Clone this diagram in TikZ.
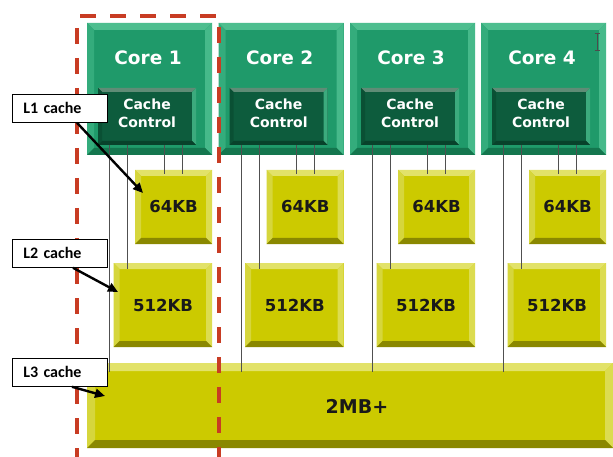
\documentclass[tikz,border=0pt]{standalone}
\usepackage{fontspec}
\setmainfont{DejaVu Sans}
\newfontfamily\carl{Carlito}
\usetikzlibrary{fit,arrows.meta}
\definecolor{gmain}{RGB}{31,154,106}
\definecolor{gtop}{RGB}{78,190,143}
\definecolor{gleft}{RGB}{52,172,124}
\definecolor{gright}{RGB}{70,185,138}
\definecolor{gbot}{RGB}{20,118,78}
\definecolor{cmain}{RGB}{13,92,61}
\definecolor{ctop}{RGB}{95,140,118}
\definecolor{cleft}{RGB}{10,80,52}
\definecolor{cright}{RGB}{60,170,125}
\definecolor{cbot}{RGB}{8,66,43}
\definecolor{ymain}{RGB}{204,202,0}
\definecolor{ytop}{RGB}{226,226,105}
\definecolor{yleft}{RGB}{214,214,60}
\definecolor{yright}{RGB}{220,220,80}
\definecolor{ybot}{RGB}{138,136,0}
\definecolor{redd}{RGB}{200,60,35}
\definecolor{wirec}{RGB}{80,80,80}
\newcommand\mybev[7]{%
  \node[fit={(#2,#3) (#4,#5)}, inner sep=0pt, outer sep=0pt, fill=#6main, draw=none] (#1) {};
  \fill[#6top] (#1.north west) -- (#1.north east) -- ([shift={(-#7pt,-#7pt)}]#1.north east) -- ([shift={(#7pt,-#7pt)}]#1.north west) -- cycle;
  \fill[#6left] (#1.north west) -- ([shift={(#7pt,-#7pt)}]#1.north west) -- ([shift={(#7pt,#7pt)}]#1.south west) -- (#1.south west) -- cycle;
  \fill[#6right] (#1.north east) -- ([shift={(-#7pt,-#7pt)}]#1.north east) -- ([shift={(-#7pt,#7pt)}]#1.south east) -- (#1.south east) -- cycle;
  \fill[#6bot] (#1.south west) -- ([shift={(#7pt,#7pt)}]#1.south west) -- ([shift={(-#7pt,#7pt)}]#1.south east) -- (#1.south east) -- cycle;
}
\tikzset{
  coretxt/.style={text=white, font=\bfseries\fontsize{18.5}{22}\selectfont, inner sep=0pt},
  cctxt/.style={text=white, font=\bfseries\fontsize{14}{18}\selectfont, align=center, inner sep=0pt},
  memtxt/.style={text=black!90, font=\bfseries\fontsize{16.5}{20}\selectfont, inner sep=0pt},
  wire/.style={draw=wirec, line width=0.9pt},
  lab/.style={draw=black, line width=0.8pt, fill=white, anchor=north west, minimum width=95pt, minimum height=28pt, text width=73pt, inner xsep=11pt, inner ysep=0pt, align=left, font=\carl\bfseries\fontsize{16}{18}\selectfont},
  pointer/.style={draw=black, line width=2.4pt, -{Triangle[length=10pt,width=9pt]}},
  reddash/.style={draw=redd, line width=4.5pt, dash pattern=on 16pt off 14pt},
}
\begin{document}
\begin{tikzpicture}[x=1pt,y=-1pt]
\useasboundingbox[fill=white] (0,0) rectangle (613,457);
% cores
\foreach \i/\x in {1/87,2/218.7,3/350,4/481}{
  \mybev{core\i}{\x}{23}{\x+125}{155}{g}{7}
  \node[coretxt] (ct\i) at (\x+61,58) {Core \i};
  \mybev{cc\i}{\x+11}{88}{\x+109}{145}{c}{4}
  \node[cctxt] (cct\i) at (\x+60,113) {Cache\\Control};
  \mybev{lone\i}{\x+48}{170}{\x+125}{244}{y}{6}
  \node[memtxt] (lonet\i) at (\x+86.5,207) {64KB};
  \mybev{ltwo\i}{\x+26.5}{263}{\x+125}{347}{y}{6}
  \node[memtxt] (ltwot\i) at (\x+76,305) {512KB};
}
\mybev{l3}{87}{363}{613}{448}{y}{8}
\node[memtxt, font=\bfseries\fontsize{19}{22}\selectfont] (l3t) at (357,406) {2MB+};
% wires
\foreach \i/\x in {1/87,2/218.7,3/350,4/481}{
  \draw[wire] (\x+22.3,0 |- cc\i.south) -- (\x+22.3,372);
  \draw[wire] (\x+40.5,0 |- cc\i.south) -- (\x+40.5,269);
  \draw[wire] (\x+77.3,0 |- cc\i.south) -- (\x+77.3,174);
  \draw[wire] (\x+95.3,0 |- cc\i.south) -- (\x+95.3,174);
}
% red dashed outline
\draw[reddash, dash phase=27pt] (77,16) -- (219,16) -- (219,470);
\draw[reddash, dash phase=18pt] (77,16) -- (77,470);
% labels
\node[lab] (l1) at (12,94) {L1 cache};
\node[lab] (l2) at (12,239) {L2 cache};
\node[lab] (l3l) at (12,358) {L3 cache};
\coordinate (l1e) at (143,193);
\coordinate (l2e) at (118,292);
\coordinate (l3e) at (105,396);
\draw[pointer] ([xshift=65pt]l1.south west) -- (l1e);
\draw[pointer] ([xshift=61pt]l2.south west) -- (l2e);
\draw[pointer] ([xshift=60pt]l3l.south west) -- (l3e);
% text cursor
\draw[black!70, line width=0.9pt] (597,33) -- (597,50) (594.5,33) -- (599.5,33) (594.5,50) -- (599.5,50);
\end{tikzpicture}
\end{document}
